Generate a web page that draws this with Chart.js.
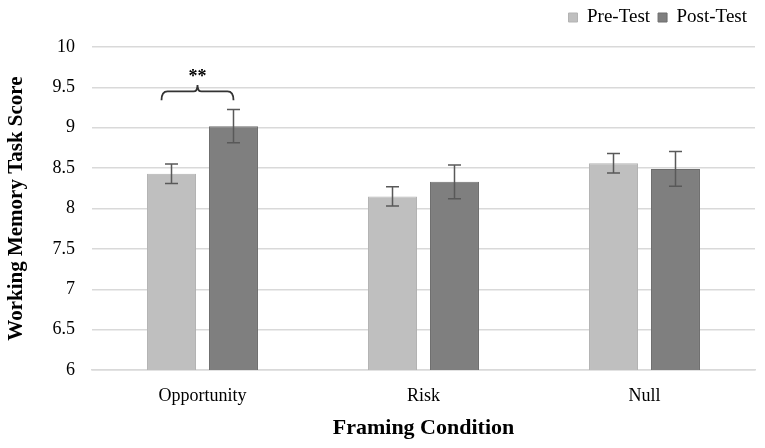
<!DOCTYPE html>
<html><head><meta charset="utf-8">
<script src="https://cdn.jsdelivr.net/npm/chart.js@4.4.1/dist/chart.umd.min.js"></script>
<style>html,body{margin:0;padding:0;background:#fff}#wrap{width:765px;height:448px}</style>
</head><body><div id="wrap"><canvas id="c" width="765" height="448"></canvas></div>
<script>
const categories = ["Opportunity", "Risk", "Null"];
const preTest = [8.43, 8.15, 8.56];
const postTest = [9.02, 8.33, 8.49];
const preErr = [0.12, 0.12, 0.12];
const postErr = [0.205, 0.21, 0.215];
const yTicks = [6, 6.5, 7, 7.5, 8, 8.5, 9, 9.5, 10];
const sigLabel = "**";

const serif = "'Liberation Serif', 'Times New Roman', serif";
const errs = [preErr, postErr];

const legendGap = {
  id: 'legendGap',
  beforeInit(chart) {
    const lg = chart.legend;
    if (!lg) return;
    const orig = lg.fit.bind(lg);
    lg.fit = function () { orig(); this.height = 47; };
  }
};

const errorBars = {
  id: 'errorBars',
  afterDatasetsDraw(chart) {
    const ctx = chart.ctx, y = chart.scales.y;
    ctx.save();
    ctx.strokeStyle = '#595959';
    ctx.lineWidth = 1.5;
    chart.data.datasets.forEach((ds, di) => {
      const meta = chart.getDatasetMeta(di);
      meta.data.forEach((bar, i) => {
        const v = ds.data[i], e = errs[di][i];
        const yt = y.getPixelForValue(v + e), yb = y.getPixelForValue(v - e);
        const x = bar.x, cap = 6.5;
        ctx.beginPath();
        ctx.moveTo(x, yt); ctx.lineTo(x, yb);
        ctx.moveTo(x - cap, yt); ctx.lineTo(x + cap, yt);
        ctx.moveTo(x - cap, yb); ctx.lineTo(x + cap, yb);
        ctx.stroke();
      });
    });
    const b0 = chart.getDatasetMeta(0).data[0], b1 = chart.getDatasetMeta(1).data[0];
    const xl = b0.x - 10, xr = b1.x, xm = (xl + xr) / 2;
    const yTop = y.getPixelForValue(9.45), yEnd = y.getPixelForValue(9.34), yTick = y.getPixelForValue(9.53);
    ctx.strokeStyle = '#333';
    ctx.lineWidth = 1.8;
    ctx.beginPath();
    ctx.moveTo(xl, yEnd);
    ctx.quadraticCurveTo(xl, yTop, xl + 6, yTop);
    ctx.lineTo(xm - 4, yTop);
    ctx.quadraticCurveTo(xm, yTop, xm, yTick);
    ctx.quadraticCurveTo(xm, yTop, xm + 4, yTop);
    ctx.lineTo(xr - 6, yTop);
    ctx.quadraticCurveTo(xr, yTop, xr, yEnd);
    ctx.stroke();
    ctx.fillStyle = '#000';
    ctx.font = "bold 18px " + serif;
    ctx.textAlign = 'center';
    ctx.textBaseline = 'middle';
    ctx.fillText(sigLabel, xm, y.getPixelForValue(9.63));
    ctx.restore();
  }
};

new Chart(document.getElementById('c'), {
  type: 'bar',
  data: {
    labels: categories,
    datasets: [
      { label: 'Pre-Test', data: preTest, backgroundColor: '#bfbfbf', borderColor: '#b3b3b3', borderWidth: 1 },
      { label: 'Post-Test', data: postTest, backgroundColor: '#7f7f7f', borderColor: '#6e6e6e', borderWidth: 1 }
    ]
  },
  options: {
    responsive: false,
    animation: false,
    devicePixelRatio: 1,
    categoryPercentage: 0.561,
    barPercentage: 0.79,
    layout: { padding: { left: 0, right: 10, top: 0, bottom: 0 } },
    plugins: {
      legend: {
        position: 'top', align: 'end',
        labels: { boxWidth: 9, boxHeight: 9, padding: 8, color: '#000', font: { family: serif, size: 19 } }
      },
      tooltip: { enabled: false }
    },
    scales: {
      x: {
        grid: { display: false },
        border: { display: true, color: '#d9d9d9', width: 1.5 },
        ticks: { color: '#000', font: { family: serif, size: 18 }, padding: 7 },
        title: { display: true, text: 'Framing Condition', color: '#000', font: { family: serif, size: 22, weight: 'bold' }, padding: { top: 4, bottom: 6 } },
        afterFit(s) { s.height = 78; }
      },
      y: {
        min: 6, max: 10,
        afterBuildTicks(s) { s.ticks = yTicks.map(v => ({ value: v })); },
        grid: { color: '#d9d9d9', lineWidth: 1.5, drawTicks: false },
        border: { display: false },
        ticks: { color: '#000', font: { family: serif, size: 18 }, padding: 17, callback: v => String(v) },
        title: { display: true, text: 'Working Memory Task Score', color: '#000', font: { family: serif, size: 21, weight: 'bold' }, padding: { top: 4, bottom: 0 } },
        afterFit(s) { s.width = 92; }
      }
    }
  },
  plugins: [legendGap, errorBars]
});
</script>
</body></html>
